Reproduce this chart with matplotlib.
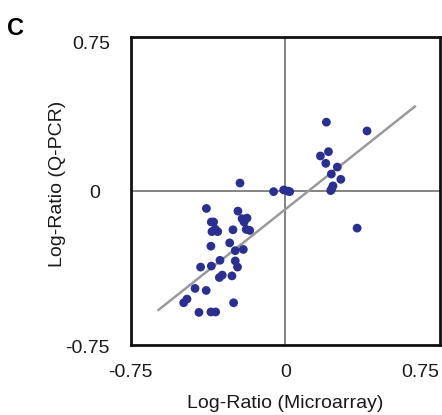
import matplotlib
matplotlib.use("Agg")
import matplotlib.pyplot as plt
import matplotlib.transforms as mtransforms
import numpy as np

plt.rcParams['font.family'] = ['Liberation Sans', 'DejaVu Sans']

# Data (log-ratios)
microarray = [0.199, 0.396, 0.170, 0.209, 0.196, 0.252, 0.223, 0.269, 0.231, 0.220,
              0.225, 0.348, -0.220, -0.057, -0.008, 0.011, 0.021,
              -0.383, -0.230, -0.210, -0.186, -0.200, -0.359, -0.348, -0.356, -0.328,
              -0.340, -0.254, -0.190, -0.173, -0.361, -0.270, -0.243, -0.204, -0.317,
              -0.243, -0.232, -0.411, -0.359, -0.320, -0.306, -0.259, -0.438, -0.384,
              -0.477, -0.493, -0.251, -0.419, -0.361, -0.338]
qpcr = [0.337, 0.294, 0.172, 0.193, 0.136, 0.118, 0.084, 0.058, 0.026, 0.003,
        0.012, -0.180, 0.040, -0.002, 0.006, 0.001, -0.002,
        -0.084, -0.097, -0.134, -0.131, -0.150, -0.150, -0.150, -0.197, -0.197,
        -0.185, -0.188, -0.186, -0.191, -0.268, -0.252, -0.290, -0.284, -0.337,
        -0.340, -0.370, -0.370, -0.365, -0.421, -0.409, -0.413, -0.474, -0.484,
        -0.526, -0.544, -0.544, -0.591, -0.589, -0.589]

fit_x = [-0.615, 0.628]
fit_slope = 0.798
fit_intercept = -0.088

ticks = [-0.75, 0, 0.75]
tick_labels = ['-0.75', '0', '0.75']

fig = plt.figure(figsize=(4.42, 4.15), dpi=100)
ax = fig.add_axes([0.2957, 0.1687, 0.6998, 0.7410])

ax.axhline(0, color='#7a7a7a', lw=1.3, zorder=1)
ax.axvline(0, color='#7a7a7a', lw=1.3, zorder=1)

fx = np.array(fit_x)
ax.plot(fx, fit_slope * fx + fit_intercept, color='#9a9a9a', lw=1.8, zorder=2)

ax.scatter(microarray, qpcr, s=40, color='#2b2f8f', edgecolors='none', zorder=3)

ax.set_xlim(-0.75, 0.75)
ax.set_ylim(-0.75, 0.75)
ax.set_xticks(ticks)
ax.set_xticklabels(tick_labels)
ax.set_yticks(ticks)
ax.set_yticklabels(tick_labels)
ax.tick_params(length=0, labelsize=14, colors='#1a1a1a', pad=14)
ax.tick_params(axis='y', pad=15)
for sp in ax.spines.values():
    sp.set_linewidth(2.0)
    sp.set_color('#111111')

def shift(lbl, dx, dy):
    lbl.set_transform(lbl.get_transform() +
                      mtransforms.ScaledTranslation(dx / 100, dy / 100, fig.dpi_scale_trans))

xl = ax.get_xticklabels()
shift(xl[2], -20, 0)
yl = ax.get_yticklabels()
shift(yl[1], -10, 0)
shift(yl[2], 0, -5)
shift(yl[0], 0, -2)

ax.set_xlabel('Log-Ratio (Microarray)', fontsize=14, color='#1a1a1a', labelpad=10)
ax.set_ylabel('Log-Ratio (Q-PCR)', fontsize=14, color='#1a1a1a')
ax.yaxis.set_label_coords(-0.209, 0.524)

fig.text(0.016, 1 - 35 / 415, 'C', fontsize=17, fontweight='bold', va='baseline', ha='left')

fig.savefig('out.png', dpi=100)
